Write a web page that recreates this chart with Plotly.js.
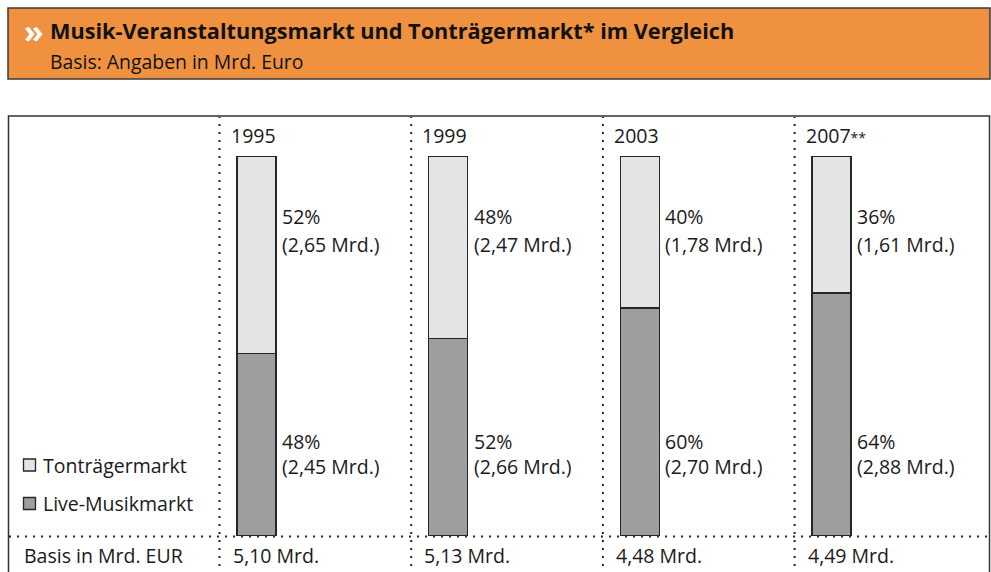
<!DOCTYPE html>
<html>
<head>
<meta charset="utf-8">
<script src="https://cdn.plot.ly/plotly-3.0.1.min.js"></script>
<style>
  html, body { margin: 0; padding: 0; background: #ffffff; }
  #chart { width: 991px; height: 572px; }
</style>
</head>
<body>
<div id="chart"></div>
<script>
// ---- data ----
var years = ['1995', '1999', '2003', '2007'];
var yearNotes = ['', '', '', '**'];
var livePct = [48, 52, 60, 64];
var tontrPct = [52, 48, 40, 36];
var liveMrd = [2.45, 2.66, 2.70, 2.88];
var tontrMrd = [2.65, 2.47, 1.78, 1.61];
var totalMrd = [5.10, 5.13, 4.48, 4.49];
var seriesNames = ['Tonträgermarkt', 'Live-Musikmarkt'];
var titleText = 'Musik-Veranstaltungsmarkt und Tonträgermarkt* im Vergleich';
var subtitleText = 'Basis: Angaben in Mrd. Euro';
var rowLabel = 'Basis in Mrd. EUR';

// ---- style ----
var W = 991, H = 572;
var FONT = '"Open Sans", Lato, sans-serif';
var BODY = 19.5;
var TXT = '#1a1a1a';
var LIGHT = '#e3e4e4';
var DARK = '#9d9ea0';
var EDGE = '#262626';
var ORANGE = '#f0913f';
var pxPerCat = 191.7;
var firstCenter = 256.5;
var barPx = 39;

function px(x) { return x / W; }
function py(y) { return 1 - y / H; }
function fmt(v) { return v.toFixed(2).replace('.', ','); }

var xIdx = years.map(function (_, i) { return i; });

var traces = [
  {
    type: 'bar', name: seriesNames[1], x: xIdx, y: livePct,
    width: barPx / pxPerCat,
    marker: { color: DARK, line: { color: EDGE, width: 1.5 } },
    hoverinfo: 'skip', showlegend: false
  },
  {
    type: 'bar', name: seriesNames[0], x: xIdx, y: tontrPct,
    width: barPx / pxPerCat,
    marker: { color: LIGHT, line: { color: EDGE, width: 1.5 } },
    hoverinfo: 'skip', showlegend: false
  }
];

var shapes = [];
var ann = [];

// header box
shapes.push({ type: 'rect', xref: 'paper', yref: 'paper', x0: px(8), x1: px(990), y0: py(79), y1: py(8),
  fillcolor: ORANGE, line: { color: '#3a3a3a', width: 1.5 }, layer: 'below' });
// outer box
shapes.push({ type: 'rect', xref: 'paper', yref: 'paper', x0: px(8.5), x1: px(989.5), y0: py(600), y1: py(116),
  fillcolor: 'rgba(0,0,0,0)', line: { color: '#333333', width: 1.5 }, layer: 'below' });
// horizontal dotted separator
shapes.push({ type: 'line', xref: 'paper', yref: 'paper', x0: px(9), x1: px(989), y0: py(536.5), y1: py(536.5),
  line: { color: '#222222', width: 2, dash: '2px,6px' }, layer: 'below' });
// vertical dotted separators
xIdx.forEach(function (i) {
  var xs = i - 37 / pxPerCat;
  shapes.push({ type: 'line', xref: 'x', yref: 'paper', x0: xs, x1: xs, y0: py(590), y1: py(117),
    line: { color: '#222222', width: 2, dash: '2px,6px' }, layer: 'below' });
});

// legend
var legendItems = [
  { name: seriesNames[0], color: LIGHT, y: 465 },
  { name: seriesNames[1], color: DARK, y: 503.5 }
];
legendItems.forEach(function (it) {
  shapes.push({ type: 'rect', xref: 'paper', yref: 'paper', x0: px(23.5), x1: px(35.5), y0: py(it.y + 6), y1: py(it.y - 6),
    fillcolor: it.color, line: { color: EDGE, width: 1.3 } });
  ann.push({ xref: 'paper', yref: 'paper', x: px(40.5), y: py(it.y), xanchor: 'left', yanchor: 'middle',
    text: it.name, showarrow: false, font: { family: FONT, size: BODY, color: TXT } });
});

// title
ann.push({ xref: 'paper', yref: 'paper', x: px(22), y: py(31), xanchor: 'left', yanchor: 'middle',
  text: '<b>»</b>', showarrow: false, font: { family: FONT, size: 32, color: '#ffffff' } });
ann.push({ xref: 'paper', yref: 'paper', x: px(47.5), y: py(30.5), xanchor: 'left', yanchor: 'middle',
  text: '<b>' + titleText + '</b>', showarrow: false, font: { family: FONT, size: 21.7, color: '#111111' } });
ann.push({ xref: 'paper', yref: 'paper', x: px(47.5), y: py(62), xanchor: 'left', yanchor: 'middle',
  text: subtitleText, showarrow: false, font: { family: FONT, size: 19.4, color: '#111111' } });

// bottom row label
ann.push({ xref: 'paper', yref: 'paper', x: px(21.5), y: py(555.5), xanchor: 'left', yanchor: 'middle',
  text: rowLabel, showarrow: false, font: { family: FONT, size: BODY, color: TXT } });

xIdx.forEach(function (i) {
  var f = { family: FONT, size: BODY, color: TXT };
  var note = yearNotes[i] ? '<span style="font-size:14px">' + yearNotes[i] + '</span>' : '';
  ann.push({ xref: 'x', yref: 'paper', x: i, xshift: -28, y: py(136), xanchor: 'left', yanchor: 'middle',
    text: years[i] + note, showarrow: false, font: f });
  ann.push({ xref: 'x', yref: 'paper', x: i, xshift: 23.5, y: py(216.5), xanchor: 'left', yanchor: 'middle',
    text: tontrPct[i] + '%', showarrow: false, font: f });
  ann.push({ xref: 'x', yref: 'paper', x: i, xshift: 23.5, y: py(244), xanchor: 'left', yanchor: 'middle',
    text: '(' + fmt(tontrMrd[i]) + ' Mrd.)', showarrow: false, font: f });
  ann.push({ xref: 'x', yref: 'paper', x: i, xshift: 23.5, y: py(441.5), xanchor: 'left', yanchor: 'middle',
    text: livePct[i] + '%', showarrow: false, font: f });
  ann.push({ xref: 'x', yref: 'paper', x: i, xshift: 23.5, y: py(466.5), xanchor: 'left', yanchor: 'middle',
    text: '(' + fmt(liveMrd[i]) + ' Mrd.)', showarrow: false, font: f });
  ann.push({ xref: 'x', yref: 'paper', x: i, xshift: -26, y: py(555.5), xanchor: 'left', yanchor: 'middle',
    text: fmt(totalMrd[i]) + ' Mrd.', showarrow: false, font: f });
});

var layout = {
  width: W, height: H,
  margin: { l: 0, r: 0, t: 0, b: 0, pad: 0 },
  paper_bgcolor: '#ffffff', plot_bgcolor: 'rgba(0,0,0,0)',
  barmode: 'stack',
  showlegend: false,
  xaxis: {
    type: 'linear', domain: [0, 1],
    range: [-firstCenter / pxPerCat, (W - firstCenter) / pxPerCat],
    showgrid: false, zeroline: false, showline: false, showticklabels: false, ticks: '', fixedrange: true
  },
  yaxis: {
    domain: [36 / H, (H - 156) / H], range: [0, 100],
    showgrid: false, zeroline: false, showline: false, showticklabels: false, ticks: '', fixedrange: true
  },
  shapes: shapes,
  annotations: ann,
  font: { family: FONT, color: TXT }
};

Plotly.newPlot('chart', traces, layout, { displayModeBar: false, staticPlot: true });
</script>
</body>
</html>
